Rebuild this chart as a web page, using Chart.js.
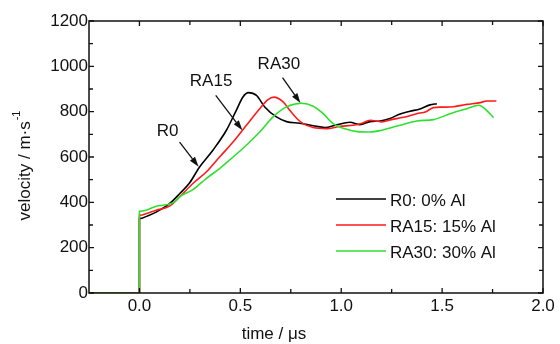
<!DOCTYPE html>
<html>
<head>
<meta charset="utf-8">
<script src="https://cdn.jsdelivr.net/npm/chart.js@4/dist/chart.umd.min.js"></script>
<style>
html,body{margin:0;padding:0;background:#fff;}
#wrap{width:560px;height:344px;position:relative;}
</style>
</head>
<body>
<div id="wrap"><canvas id="c" width="560" height="344"></canvas></div>
<script>
// ---- data ----
const r0Time = [-0.25, 0, 0, 0.04, 0.083, 0.149, 0.199, 0.248, 0.298, 0.364, 0.431, 0.48, 0.513, 0.54, 0.58, 0.621, 0.679, 0.729, 0.795, 0.861, 0.92, 0.977, 1.043, 1.093, 1.143, 1.192, 1.242, 1.292, 1.341, 1.39, 1.44, 1.474];
const r0Vel  = [0, 0, 328, 340, 357, 394, 438, 485, 556, 630, 718, 806, 865, 884, 872, 821, 777, 756, 749, 738, 730, 742, 753, 743, 756, 759, 770, 790, 802, 812, 830, 835];

const ra15Time = [-0.25, 0, 0, 0.04, 0.083, 0.149, 0.199, 0.265, 0.331, 0.397, 0.464, 0.53, 0.596, 0.637, 0.666, 0.712, 0.745, 0.78, 0.811, 0.861, 0.927, 0.994, 1.06, 1.1, 1.143, 1.2, 1.25, 1.308, 1.374, 1.42, 1.457, 1.5, 1.557, 1.623, 1.689, 1.722, 1.769];
const ra15Vel  = [0, 0, 343, 352, 365, 383, 424, 483, 534, 600, 666, 740, 813, 853, 864, 843, 806, 770, 747, 730, 725, 735, 740, 748, 762, 755, 765, 775, 791, 800, 818, 820, 822, 832, 840, 847, 847];

const ra30Time = [-0.25, 0, 0, 0.033, 0.083, 0.132, 0.175, 0.199, 0.265, 0.331, 0.397, 0.464, 0.53, 0.596, 0.662, 0.729, 0.803, 0.861, 0.911, 0.96, 1.027, 1.08, 1.143, 1.2, 1.25, 1.292, 1.374, 1.457, 1.54, 1.623, 1.681, 1.705, 1.755];
const ra30Vel  = [0, 0, 360, 365, 383, 389, 402, 424, 456, 505, 549, 600, 652, 710, 777, 821, 837, 824, 791, 747, 722, 712, 710, 718, 730, 740, 759, 765, 791, 813, 828, 818, 774];

const seriesLabels = ['R0: 0% Al', 'RA15: 15% Al', 'RA30: 30% Al'];
const xTickValues = [0, 0.5, 1.0, 1.5, 2.0];
const xMinorValues = [0.25, 0.75, 1.25, 1.75];
const yTickValues = [0, 200, 400, 600, 800, 1000, 1200];
const yMinorValues = [100, 300, 500, 700, 900, 1100];

// callout labels with arrows (data coordinates)
const calloutText = ['R0', 'RA15', 'RA30'];
const calloutAt = [[0.139, 713], [0.355, 935], [0.691, 1009]];
const arrowFrom = [[0.199, 666], [0.378, 872], [0.709, 950]];
const arrowTo   = [[0.293, 557], [0.510, 718], [0.798, 838]];

// ---- styles ----
const FONT = '"Liberation Sans", Arial, sans-serif';
const colors = ['#000000', '#ff1a1a', '#2ee02e'];

function pts(xs, ys){ return xs.map((x,i)=>({x:x, y:ys[i]})); }

const datasets = [
  {label: seriesLabels[0], data: pts(r0Time, r0Vel), borderColor: colors[0], order: 3},
  {label: seriesLabels[1], data: pts(ra15Time, ra15Vel), borderColor: colors[1], order: 2},
  {label: seriesLabels[2], data: pts(ra30Time, ra30Vel), borderColor: colors[2], order: 1}
].map(d => Object.assign(d, {showLine:true, pointRadius:0, borderWidth:1.6, cubicInterpolationMode:'monotone', fill:false}));

const decor = {
  id: 'decor',
  afterDatasetsDraw(chart){
    const ctx = chart.ctx, a = chart.chartArea;
    const xs = chart.scales.x, ys = chart.scales.y;
    ctx.save();
    // frame
    ctx.strokeStyle = '#111';
    ctx.lineWidth = 1.5;
    ctx.strokeRect(a.left, a.top, a.right - a.left, a.bottom - a.top);
    // ticks (inward, all four sides)
    ctx.lineWidth = 1.3;
    ctx.beginPath();
    const tickX = (vals, len) => vals.forEach(v => {
      const p = xs.getPixelForValue(v);
      ctx.moveTo(p, a.bottom); ctx.lineTo(p, a.bottom - len);
      ctx.moveTo(p, a.top); ctx.lineTo(p, a.top + len);
    });
    const tickY = (vals, len) => vals.forEach(v => {
      const p = ys.getPixelForValue(v);
      ctx.moveTo(a.left, p); ctx.lineTo(a.left + len, p);
      ctx.moveTo(a.right, p); ctx.lineTo(a.right - len, p);
    });
    tickX(xTickValues, 5); tickX(xMinorValues, 4);
    tickY(yTickValues, 5); tickY(yMinorValues, 4);
    ctx.stroke();

    // callouts
    ctx.fillStyle = '#111';
    ctx.strokeStyle = '#111';
    ctx.font = '17px ' + FONT;
    ctx.textAlign = 'center';
    ctx.textBaseline = 'middle';
    calloutText.forEach((t, i) => {
      ctx.fillText(t, xs.getPixelForValue(calloutAt[i][0]), ys.getPixelForValue(calloutAt[i][1]));
      const x0 = xs.getPixelForValue(arrowFrom[i][0]), y0 = ys.getPixelForValue(arrowFrom[i][1]);
      const x1 = xs.getPixelForValue(arrowTo[i][0]), y1 = ys.getPixelForValue(arrowTo[i][1]);
      const ang = Math.atan2(y1 - y0, x1 - x0);
      const hl = 10, hw = 3.2;
      ctx.beginPath();
      ctx.lineWidth = 1.3;
      ctx.moveTo(x0, y0);
      ctx.lineTo(x1 - hl * Math.cos(ang), y1 - hl * Math.sin(ang));
      ctx.stroke();
      ctx.beginPath();
      ctx.moveTo(x1, y1);
      ctx.lineTo(x1 - hl * Math.cos(ang) + hw * Math.sin(ang), y1 - hl * Math.sin(ang) - hw * Math.cos(ang));
      ctx.lineTo(x1 - hl * Math.cos(ang) - hw * Math.sin(ang), y1 - hl * Math.sin(ang) + hw * Math.cos(ang));
      ctx.closePath();
      ctx.fill();
    });

    // legend inside plot (bottom right)
    ctx.textAlign = 'left';
    chart.data.datasets.forEach((d, i) => {
      const yy = a.top + 178 + i * 26;
      ctx.strokeStyle = d.borderColor;
      ctx.lineWidth = 1.6;
      ctx.beginPath();
      ctx.moveTo(a.left + 247, yy); ctx.lineTo(a.left + 297, yy);
      ctx.stroke();
      ctx.fillStyle = '#111';
      ctx.fillText(d.label, a.left + 301, yy + 2);
    });

    // axis titles
    ctx.textAlign = 'center';
    ctx.fillText('time / \u03bcs', 274, 334);
    ctx.save();
    ctx.translate(25, 166);
    ctx.rotate(-Math.PI / 2);
    const main = 'velocity / m\u00b7s';
    const w = ctx.measureText(main).width;
    ctx.font = '11px ' + FONT;
    const sw = ctx.measureText('-1').width;
    ctx.font = '17px ' + FONT;
    ctx.textAlign = 'left';
    ctx.fillText(main, -(w + sw) / 2, 0);
    ctx.font = '11px ' + FONT;
    ctx.fillText('-1', -(w + sw) / 2 + w + 1, -8);
    ctx.restore();
    ctx.restore();
  }
};

new Chart(document.getElementById('c'), {
  type: 'scatter',
  data: { datasets: datasets },
  options: {
    responsive: false,
    animation: false,
    layout: { padding: { left: 0, right: 17, top: 21, bottom: 0 } },
    plugins: { legend: { display: false }, tooltip: { enabled: false } },
    scales: {
      x: {
        type: 'linear', min: -0.25, max: 2.0,
        grid: { display: false, drawTicks: false },
        border: { display: false },
        afterBuildTicks: s => { s.ticks = xTickValues.map(v => ({value: v})); },
        afterFit: s => { s.height = 51; },
        ticks: { padding: 3, color: '#111', font: { family: FONT, size: 17 },
                 callback: v => Number(v).toFixed(1), maxRotation: 0, autoSkip: false }
      },
      y: {
        type: 'linear', min: 0, max: 1200,
        grid: { display: false, drawTicks: false },
        border: { display: false },
        afterBuildTicks: s => { s.ticks = yTickValues.map(v => ({value: v})); },
        afterFit: s => { s.width = 89; },
        ticks: { padding: 1, color: '#111', font: { family: FONT, size: 17 },
                 callback: v => String(v) }
      }
    }
  },
  plugins: [decor]
});
</script>
</body>
</html>
